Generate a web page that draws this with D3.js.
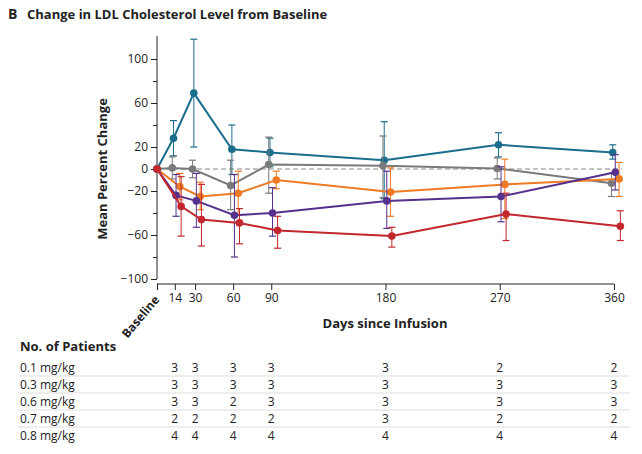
<!DOCTYPE html>
<html><head><meta charset="utf-8">
<script src="https://cdn.jsdelivr.net/npm/d3@7"></script>
<style>body{margin:0;background:#fff}text{font-family:"Open Sans","DejaVu Sans",sans-serif}</style>
</head><body><svg id="c" width="642" height="454"></svg>
<script>
const days=[0,14,30,60,90,180,270,360];
const tickDays=[14,30,60,90,180,270,360];
const yTicks=[100,60,20,0,-20,-60,-100];
const yMinor=[80,40,-40,-80];
const doseLabels=["0.1 mg/kg","0.3 mg/kg","0.6 mg/kg","0.7 mg/kg","0.8 mg/kg"];
const patients=[[3,3,3,3,3,3,2,2],[3,3,3,3,3,3,3,3],[3,3,3,2,3,3,3,3],[2,2,2,2,2,3,2,2],[4,4,4,4,4,4,4,4]];
const blueMean=[0,28,69,18,15,8,22,15];
const blueLo=[0,12,20,-5,2,-27,11,9];
const blueHi=[0,44,118,40,28,43,33,22];
const grayMean=[0,1,0,-15,4,3,0.5,-13];
const grayLo=[0,-9,-8,-37,-22,-26,-9,-25];
const grayHi=[0,11,8,8,29,30,10,-4];
const orangeMean=[0,-16,-25,-22,-10,-21,-14,-9];
const orangeLo=[0,-28,-37,-42,-18,-43,-45,-25];
const orangeHi=[0,-4,-12,-2,-2,1,9,6];
const purpleMean=[0,-24,-29,-42,-40,-29,-25,-3];
const purpleLo=[0,-43,-53,-80,-61,-54,-48,-19];
const purpleHi=[0,-5,-4,-5,-17,-2,2,13];
const redMean=[0,-34,-46,-49,-56,-61,-41,-52];
const redLo=[0,-61,-70,-68,-72,-71,-65,-65];
const redHi=[0,-7,-14,-36,-43,-53,-22,-38];
const series=[
 {m:blueMean,lo:blueLo,hi:blueHi,c:"#1b6d8c",o:-1},
 {m:grayMean,lo:grayLo,hi:grayHi,c:"#7a7a7a",o:-2},
 {m:orangeMean,lo:orangeLo,hi:orangeHi,c:"#ee7a23",o:4},
 {m:purpleMean,lo:purpleLo,hi:purpleHi,c:"#55308d",o:1},
 {m:redMean,lo:redLo,hi:redHi,c:"#c1272d",o:5}];
const svg=d3.select("#c");
const x=d3.scaleLinear().domain([0,360]).range([157,614]);
const y=d3.scaleLinear().domain([-100,100]).range([279,59]);
svg.append("text").attr("x",8).attr("y",19).attr("font-weight","bold").attr("font-size",14).attr("fill","#222").text("B");
svg.append("text").attr("x",27).attr("y",19).attr("font-weight","bold").attr("font-size",13).attr("fill","#222").text("Change in LDL Cholesterol Level from Baseline");
// y axis
const ya=svg.append("g").attr("transform","translate(157,0)").call(d3.axisLeft(y).tickValues(yTicks).tickFormat(d=>d<0?"\u2212"+(-d):d).tickSize(6).tickSizeOuter(0));
ya.select(".domain").attr("d","M0,36V279");
svg.append("g").attr("transform","translate(157,0)").call(d3.axisLeft(y).tickValues(yMinor).tickFormat("").tickSize(4)).select(".domain").remove();
svg.selectAll("g text").attr("font-size",12).attr("fill","#222");
svg.selectAll("g line,g path").attr("stroke","#222");
svg.append("text").attr("transform","translate(107,169) rotate(-90)").attr("text-anchor","middle").attr("font-weight","bold").attr("font-size",13).attr("fill","#222").text("Mean Percent Change");
// x axis
const xa=svg.append("g").attr("transform","translate(0,284)").call(d3.axisBottom(x).tickValues([0].concat(tickDays)).tickFormat(d=>d===0?"":d).tickSize(6).tickSizeOuter(0));
xa.select(".domain").attr("d","M157,0H614");
xa.selectAll("text").attr("font-size",12).attr("fill","#222");
xa.selectAll("line,path").attr("stroke","#222");
svg.append("text").attr("transform","translate(160,300) rotate(-50)").attr("text-anchor","end").attr("font-weight","bold").attr("font-size",12).attr("fill","#222").text("Baseline");
svg.append("text").attr("x",385).attr("y",328).attr("text-anchor","middle").attr("font-weight","bold").attr("font-size",13).attr("fill","#222").text("Days since Infusion");
svg.append("line").attr("x1",x(0)).attr("x2",x(360)+8).attr("y1",y(0)).attr("y2",y(0)).attr("stroke","#888").attr("stroke-dasharray","5,3").attr("stroke-width",1.2);
const line=d3.line();
series.forEach(s=>{
 const pts=days.map((d,i)=>[x(d+(i?s.o:0)),y(s.m[i])]);
 const g=svg.append("g");
 days.forEach((d,i)=>{ if(!i)return; const px=pts[i][0];
  g.append("line").attr("x1",px).attr("x2",px).attr("y1",y(s.lo[i])).attr("y2",y(s.hi[i])).attr("stroke",s.c).attr("stroke-width",1);
  [s.lo[i],s.hi[i]].forEach(v=>g.append("line").attr("x1",px-3.5).attr("x2",px+3.5).attr("y1",y(v)).attr("y2",y(v)).attr("stroke",s.c).attr("stroke-width",1.2));});
 g.append("path").attr("d",line(pts)).attr("fill","none").attr("stroke",s.c).attr("stroke-width",2);
 g.selectAll("circle").data(pts).join("circle").attr("cx",d=>d[0]).attr("cy",d=>d[1]).attr("r",3.8).attr("fill",s.c);
});
// table
svg.append("text").attr("x",20).attr("y",351).attr("font-weight","bold").attr("font-size",13).attr("fill","#222").text("No. of Patients");
const rowY=d3.scaleBand().domain(d3.range(5)).range([359,444]);
doseLabels.forEach((lab,r)=>{
 const yy=rowY(r)+rowY.bandwidth()/2+4;
 if(r>0) svg.append("line").attr("x1",18).attr("x2",630).attr("y1",rowY(r)).attr("y2",rowY(r)).attr("stroke","#ddd");
 svg.append("text").attr("x",20).attr("y",yy).attr("font-size",12).attr("fill","#222").text(lab);
 patients[r].forEach((n,i)=>{ if(!i)return;
  svg.append("text").attr("x",x(days[i])).attr("y",yy).attr("text-anchor","middle").attr("font-size",12).attr("fill","#222").text(n);});
});
</script></body></html>
